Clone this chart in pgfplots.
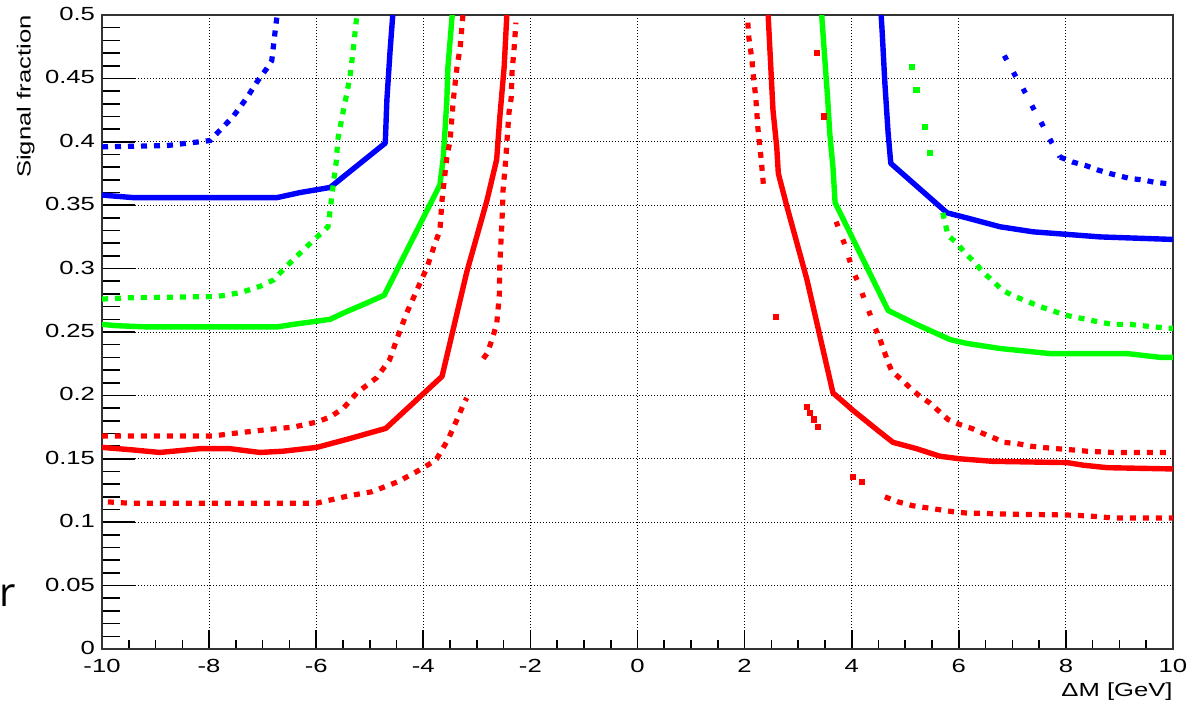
\documentclass[border=0pt]{standalone}
\usepackage{fontspec}
\setmainfont{Liberation Sans}[FakeStretch=1.35]
\newfontfamily\slidefont{Open Sans}
\usepackage{pgfplots}
\pgfplotsset{compat=1.18}
\definecolor{rred}{HTML}{FF0000}
\definecolor{rgreen}{HTML}{00FF00}
\definecolor{rblue}{HTML}{0000FF}
\pgfplotsset{
  rootline/.style={line width=2.7pt, line join=round, mark=none},
  rootdots/.style={line width=2.6pt, dash pattern=on 3pt off 3.5pt, mark=none},
  rootsparse/.style={line width=2.6pt, dash pattern=on 2.5pt off 7pt, mark=none},
  rootmarks/.style={only marks, mark=square*, mark size=1.3pt},
}
\begin{document}
\begin{tikzpicture}
\useasboundingbox (-51pt,-29.5pt) rectangle (547pt,324.5pt);
\begin{axis}[name=ax, at={(0pt,0pt)}, anchor=south west,
  scale only axis, width=535.5pt, height=317pt,
  xmin=-10, xmax=10, ymin=0, ymax=0.5,
  xtick={-10,-8,-6,-4,-2,0,2,4,6,8,10},
  xticklabels={-10,-8,-6,-4,-2,0,2,4,6,8,10},
  ytick={0,0.05,0.1,0.15,0.2,0.25,0.3,0.35,0.4,0.45,0.5},
  yticklabels={0,0.05,0.1,0.15,0.2,0.25,0.3,0.35,0.4,0.45,0.5},
  minor x tick num=3, minor y tick num=4,
  tick align=inside, tick pos=left,
  xmajorgrids, ymajorgrids,
  major grid style={black, line width=0.5pt, dash pattern=on 0.5pt off 1pt},
  axis line style={black!80, line width=0.8pt},
  tick style={black, line width=0.8pt},
  xtick style={/pgfplots/major tick length=9.5pt, /pgfplots/minor tick length=4.5pt},
  ytick style={/pgfplots/major tick length=16.5pt, /pgfplots/minor tick length=9pt},
  tick label style={font=\fontsize{9.5}{11}\selectfont},
  xticklabel style={yshift=-1.5pt},
  yticklabel style={yshift=0.5pt},
]
% blue
\addplot[rblue, rootline] coordinates {(-10,0.358) (-9.42,0.356) (-6.73,0.356) (-6.30,0.360) (-5.74,0.364) (-4.71,0.399) (-4.68,0.433) (-4.62,0.472) (-4.57,0.5)};
\addplot[rblue, rootline] coordinates {(4.55,0.5) (4.57,0.486) (4.62,0.446) (4.68,0.407) (4.73,0.383) (5.78,0.344) (6.15,0.340) (6.77,0.333) (7.39,0.329) (8.02,0.327) (8.64,0.325) (10,0.323)};
\addplot[rblue, rootdots] coordinates {(-10,0.396) (-8.79,0.397) (-7.98,0.401) (-7.80,0.409) (-7.55,0.420) (-7.29,0.435) (-7.11,0.447) (-6.92,0.458) (-6.83,0.464) (-6.77,0.486) (-6.73,0.5)};
\addplot[rblue, rootsparse] coordinates {(6.85,0.468) (7.07,0.451) (7.20,0.442) (7.41,0.425) (7.53,0.416) (7.74,0.399) (7.89,0.388)};
\addplot[rblue, rootdots] coordinates {(7.89,0.388) (8.13,0.384) (8.39,0.381) (8.58,0.378) (8.82,0.375) (9.20,0.371) (9.44,0.370) (9.66,0.368) (9.91,0.367) (10,0.366)};
% green
\addplot[rgreen, rootline] coordinates {(-10,0.256) (-9.73,0.255) (-9.16,0.254) (-6.73,0.254) (-6.43,0.256) (-5.74,0.260) (-5.49,0.265) (-5.05,0.273) (-4.73,0.279) (-3.69,0.366) (-3.63,0.386) (-3.59,0.412) (-3.56,0.433) (-3.54,0.459) (-3.46,0.5)};
\addplot[rgreen, rootline] coordinates {(3.44,0.5) (3.50,0.464) (3.55,0.435) (3.59,0.407) (3.65,0.380) (3.69,0.352) (4.68,0.267) (5.21,0.256) (5.84,0.244) (6.15,0.241) (6.77,0.237) (7.70,0.233) (9.14,0.233) (9.76,0.230) (10,0.230)};
\addplot[rgreen, rootdots] coordinates {(-10,0.276) (-9.5,0.277) (-7.85,0.278) (-7.42,0.281) (-7.05,0.286) (-6.80,0.291) (-6.62,0.299) (-6.43,0.307) (-6.11,0.320) (-5.78,0.333) (-5.74,0.346) (-5.68,0.367) (-5.62,0.386) (-5.60,0.401) (-5.50,0.423) (-5.43,0.438) (-5.37,0.451) (-5.31,0.472) (-5.24,0.5)};
\addplot[rgreen, rootmarks] coordinates {(5.13,0.459) (5.21,0.441) (5.37,0.412) (5.46,0.391)};
\addplot[rgreen, rootdots] coordinates {(5.70,0.344) (5.80,0.326) (5.97,0.320) (6.12,0.312) (6.30,0.305) (6.45,0.297) (6.62,0.291) (6.81,0.283) (7.05,0.278) (7.29,0.274) (7.52,0.270) (7.74,0.267) (7.93,0.264) (8.13,0.262) (8.39,0.260) (8.60,0.258) (8.88,0.256) (9.20,0.256) (9.42,0.255) (9.66,0.254) (9.91,0.253) (10,0.253)};
% red
\addplot[rred, rootline] coordinates {(-10,0.159) (-9.42,0.157) (-8.92,0.155) (-8.17,0.158) (-7.61,0.158) (-7.05,0.155) (-6.62,0.156) (-5.99,0.159) (-5.37,0.166) (-4.70,0.174) (-3.65,0.215) (-3.19,0.297) (-2.81,0.354) (-2.63,0.386) (-2.57,0.42) (-2.49,0.459) (-2.44,0.5)};
\addplot[rred, rootline] coordinates {(2.44,0.5) (2.47,0.475) (2.53,0.425) (2.60,0.396) (2.63,0.375) (2.79,0.349) (3.16,0.292) (3.65,0.202) (4.03,0.188) (4.47,0.173) (4.77,0.163) (5.21,0.158) (5.65,0.152) (6.02,0.150) (6.64,0.148) (8.02,0.147) (8.32,0.145) (8.77,0.143) (10,0.142)};
\addplot[rred, rootdots] coordinates {(-10,0.168) (-7.93,0.168) (-7.55,0.170) (-6.92,0.173) (-6.43,0.175) (-5.99,0.179) (-5.74,0.183) (-5.49,0.190) (-5.24,0.202) (-4.87,0.214) (-4.63,0.228) (-4.48,0.246) (-4.31,0.265) (-4.12,0.283) (-3.93,0.301) (-3.78,0.320) (-3.69,0.330) (-3.65,0.354) (-3.56,0.388) (-3.50,0.401) (-3.44,0.433) (-3.37,0.459) (-3.31,0.475) (-3.26,0.5)};
\addplot[rred, rootdots] coordinates {(-9.89,0.116) (-9.5,0.115) (-6,0.115) (-5.37,0.121) (-4.96,0.124) (-4.47,0.132) (-4.12,0.140) (-3.84,0.147) (-3.75,0.150) (-3.54,0.165) (-3.37,0.181) (-3.26,0.192) (-3.19,0.198)};
\addplot[rred, rootdots] coordinates {(-2.88,0.229) (-2.81,0.233) (-2.75,0.240) (-2.72,0.244) (-2.63,0.256) (-2.58,0.279) (-2.57,0.304) (-2.53,0.338) (-2.51,0.362) (-2.46,0.386) (-2.44,0.399) (-2.40,0.423) (-2.36,0.434) (-2.34,0.457) (-2.31,0.470) (-2.27,0.494)};
\addplot[rred, rootmarks] coordinates {(3.35,0.470) (3.48,0.420)};
\addplot[rred, rootsparse] coordinates {(3.71,0.337) (3.87,0.319) (4.01,0.300) (4.12,0.289) (4.28,0.271) (4.44,0.253) (4.53,0.244)};
\addplot[rred, rootdots] coordinates {(4.53,0.244) (4.68,0.226) (4.75,0.219) (4.94,0.212) (5.09,0.206) (5.28,0.199) (5.46,0.194) (5.80,0.181) (6.02,0.177) (6.24,0.174) (6.45,0.170) (6.68,0.166) (6.83,0.163) (7.09,0.162) (7.33,0.160) (7.55,0.159) (7.83,0.158) (8.13,0.157) (8.39,0.156) (8.88,0.155) (10,0.155)};
\addplot[rred, rootdots] coordinates {(2.06,0.494) (2.08,0.482) (2.12,0.470) (2.14,0.464) (2.15,0.457) (2.18,0.446) (2.21,0.434) (2.23,0.422) (2.25,0.410) (2.28,0.398) (2.31,0.386) (2.36,0.362)};
\addplot[rred, rootmarks] coordinates {(2.58,0.262) (3.16,0.191) (3.22,0.186) (3.30,0.181) (3.37,0.175) (4.02,0.136) (4.19,0.132)};
\addplot[rred, rootdots] coordinates {(4.62,0.120) (4.87,0.116) (5.14,0.113) (5.46,0.111) (5.93,0.108) (6.21,0.107) (6.49,0.107) (6.7,0.1065) (8.0,0.1057) (8.4,0.105) (8.9,0.1033) (10,0.1033)};
\end{axis}
\node[rotate=90, anchor=south east, inner sep=0pt, font=\fontsize{9.5}{11}\selectfont] at ([xshift=-33.5pt]ax.north west) {Signal fraction};
\node[anchor=north east, inner sep=0pt, font=\fontsize{9.5}{11}\selectfont] at ([yshift=-16.5pt]ax.south east) {ΔM [GeV]};
\node[anchor=base, inner sep=0pt, font=\slidefont\fontsize{20}{24}\selectfont] at ([xshift=-47pt, yshift=21.5pt]ax.south west) {r};
\end{tikzpicture}
\end{document}
